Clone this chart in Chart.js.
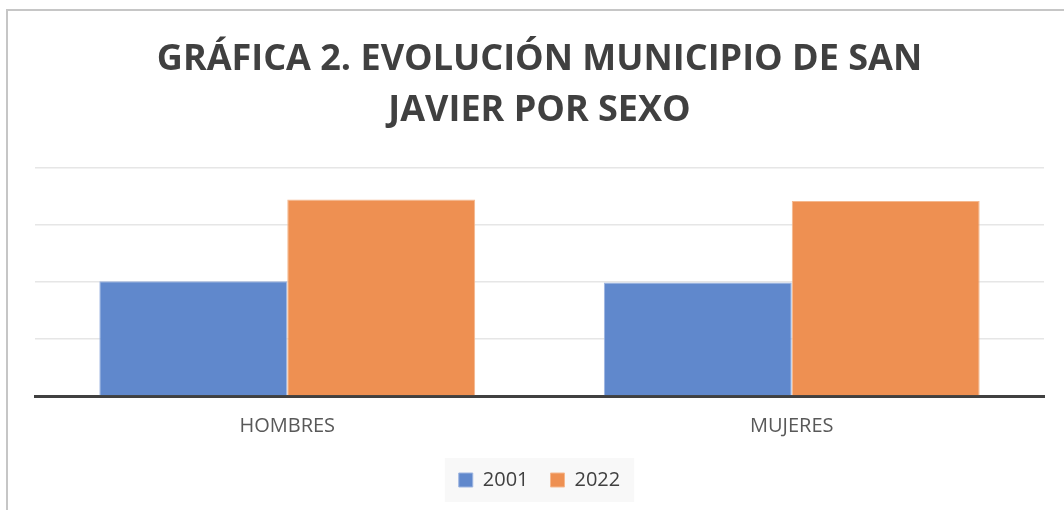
<!DOCTYPE html>
<html>
<head>
<meta charset="utf-8">
<script src="https://cdn.jsdelivr.net/npm/chart.js@4/dist/chart.umd.min.js"></script>
<style>
  html, body { margin: 0; padding: 0; background: #fff; }
  #wrap { position: relative; width: 1064px; height: 510px; overflow: hidden; }
  #frame { position: absolute; left: 6px; top: 9px; width: 1200px; height: 700px;
           border-left: 2px solid #c6c6c6; border-top: 2px solid #c6c6c6; }
  canvas { position: absolute; left: 0; top: 0; }
</style>
</head>
<body>
<div id="wrap">
  <div id="frame"></div>
  <canvas id="c" width="1064" height="510"></canvas>
</div>
<script>
const categories = ['HOMBRES', 'MUJERES'];
const seriesLabels = ['2001', '2022'];
const values2001 = [10060, 9940];
const values2022 = [17220, 17080];
const titleLines = ['GRÁFICA 2. EVOLUCIÓN MUNICIPIO DE SAN', 'JAVIER POR SEXO'];

const legendBg = {
  id: 'legendBg',
  beforeDraw(chart) {
    const lg = chart.legend;
    if (!lg || !lg.legendHitBoxes || !lg.legendHitBoxes.length) return;
    const boxes = lg.legendHitBoxes;
    let l = Infinity, r = -Infinity, t = Infinity, b = -Infinity;
    boxes.forEach(h => { l = Math.min(l, h.left); r = Math.max(r, h.left + h.width); t = Math.min(t, h.top); b = Math.max(b, h.top + h.height); });
    const ctx = chart.ctx;
    ctx.save();
    ctx.fillStyle = '#f8f8f8';
    ctx.fillRect(l - 14, t - 12, (r - l) + 28, (b - t) + 24);
    ctx.restore();
  }
};

new Chart(document.getElementById('c'), {
  type: 'bar',
  data: {
    labels: categories,
    datasets: [
      { label: seriesLabels[0], data: values2001, backgroundColor: '#6088cc', borderColor: '#9cb4e0', borderWidth: 1 },
      { label: seriesLabels[1], data: values2022, backgroundColor: '#ee9052', borderColor: '#f5b88e', borderWidth: 1 }
    ]
  },
  options: {
    responsive: false,
    animation: false,
    layout: { padding: { left: 35, right: 20, top: 35, bottom: 10 } },
    datasets: { bar: { categoryPercentage: 0.745, barPercentage: 1 } },
    scales: {
      x: {
        grid: { display: false },
        border: { display: true, color: '#404040', width: 3 },
        ticks: { color: '#595959', font: { family: 'Open Sans', size: 20 }, padding: 10 }
      },
      y: {
        min: 0, max: 20000,
        ticks: { display: false, stepSize: 5000 },
        border: { display: false },
        grid: { color: '#e6e6e6', lineWidth: 1.5, drawTicks: false }
      }
    },
    plugins: {
      tooltip: { enabled: false },
      title: {
        display: true,
        text: titleLines,
        color: '#404040',
        font: { family: 'Open Sans', size: 36, weight: 'bold', lineHeight: 1.4 },
        padding: { top: 0, bottom: 32 }
      },
      legend: {
        position: 'bottom',
        labels: { color: '#404040', font: { family: 'Open Sans', size: 20 }, boxWidth: 14, boxHeight: 14, padding: 22 }
      }
    }
  },
  plugins: [legendBg]
});
</script>
</body>
</html>
